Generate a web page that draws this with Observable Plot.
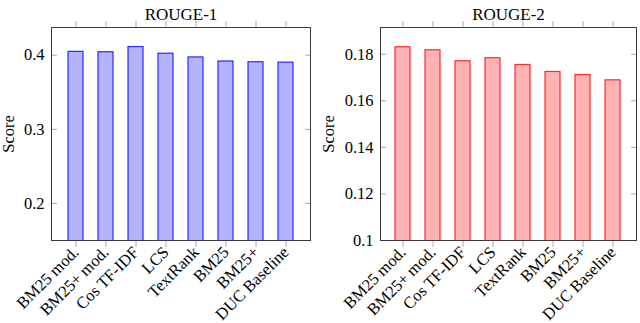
<!DOCTYPE html>
<html><head><meta charset="utf-8">
<script src="https://cdn.jsdelivr.net/npm/d3@7"></script>
<script src="https://cdn.jsdelivr.net/npm/@observablehq/plot@0.6"></script>
<style>
body{margin:0;background:#fff;}
#wrap{display:flex;width:640px;height:323px;}
#wrap svg{font-family:"Liberation Serif", serif !important; font-size:16px !important; overflow:visible;}
#wrap svg text{font-family:"Liberation Serif", serif;}
</style></head><body><div id="wrap"></div>
<script>
const categories = ["BM25 mod.", "BM25+ mod.", "Cos TF-IDF", "LCS", "TextRank", "BM25", "BM25+", "DUC Baseline"];
const rouge1 = [0.4045, 0.404, 0.411, 0.402, 0.397, 0.3915, 0.3905, 0.390];
const rouge2 = [0.183, 0.1817, 0.177, 0.1783, 0.1754, 0.1724, 0.1711, 0.1688];
const titles = ["ROUGE-1", "ROUGE-2"];
const yTicks1 = [0.2, 0.3, 0.4];
const yTicks2 = [0.1, 0.12, 0.14, 0.16, 0.18];
const yLabel = "Score";
const blank = () => "";

function chart({title, values, domain, ticks, fill, stroke, marginLeft, marginRight, labelOffset}) {
  const data = categories.map((c, i) => ({method: c, score: values[i]}));
  return Plot.plot({
    width: 320, height: 323, marginTop: 27, marginBottom: 83, marginLeft, marginRight,
    style: "font-family: 'Liberation Serif', serif; font-size: 16px; color: #000; background: #fff; overflow: visible;",
    x: {domain: categories, paddingInner: 0.49, paddingOuter: 0.435, label: null},
    y: {domain, label: yLabel},
    marks: [
      Plot.barY(data, {x: "method", y: "score", fill, stroke, strokeWidth: 1.2, clip: true}),
      Plot.axisY(ticks, {anchor: "left", tickSize: 6, insetLeft: 6, tickPadding: 7, stroke: "#aaa", fontSize: 16.5,
        tickFormat: d3.format("~g"), label: yLabel, labelAnchor: "center", labelOffset, labelArrow: "none"}),
      Plot.axisY(ticks, {anchor: "right", tickSize: 6, insetRight: 6, stroke: "#aaa", tickFormat: blank, label: null}),
      Plot.axisX({anchor: "bottom", tickSize: 7, stroke: "#aaa", tickRotate: -45, tickPadding: 2, fontSize: 16.5, label: null}),
      Plot.axisX({anchor: "top", tickSize: 7, stroke: "#aaa", tickFormat: blank, label: null}),
      Plot.frame({stroke: "#3a3a3a"}),
      Plot.text([title], {text: d => d, frameAnchor: "top", dy: -20, fontSize: 17})
    ]
  });
}

const wrap = document.getElementById("wrap");
wrap.append(chart({title: titles[0], values: rouge1, domain: [0.15, 0.4374], ticks: yTicks1,
  fill: "#b3b3ff", stroke: "#2a2aff", marginLeft: 51, marginRight: 10, labelOffset: 49}));
wrap.append(chart({title: titles[1], values: rouge2, domain: [0.1, 0.1915], ticks: yTicks2,
  fill: "#ffb3b3", stroke: "#ff2a2a", marginLeft: 60, marginRight: 4, labelOffset: 58}));
</script></body></html>
